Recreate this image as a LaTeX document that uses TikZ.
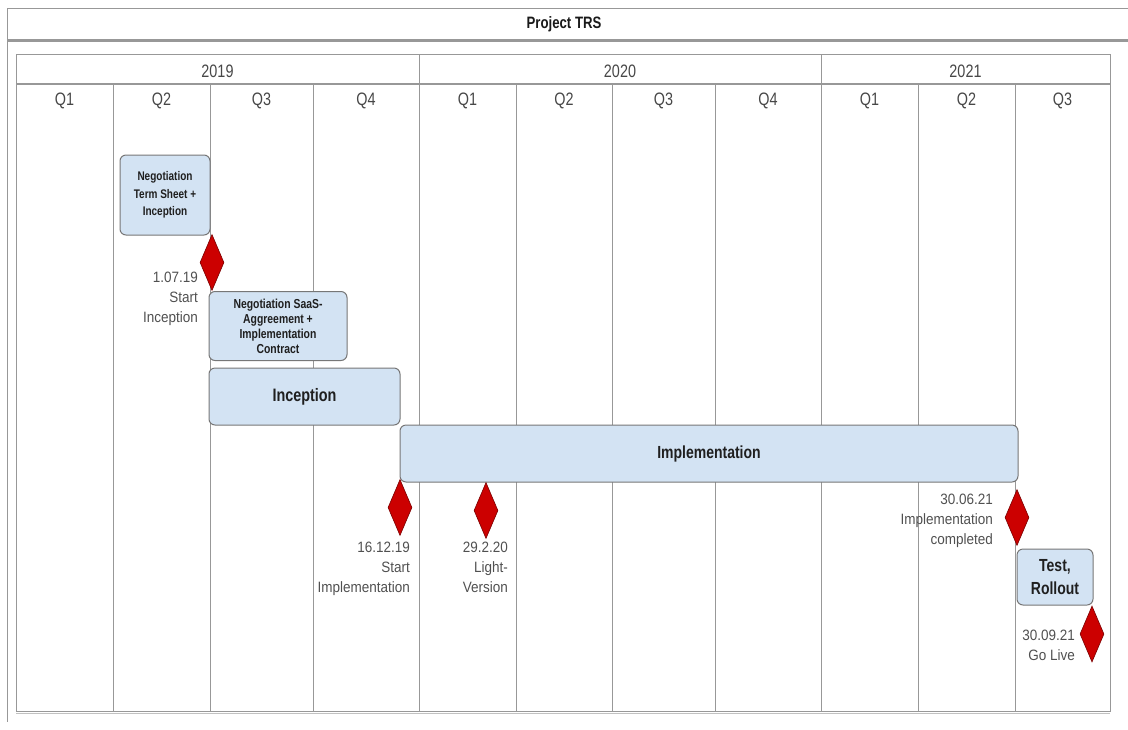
\documentclass[tikz,border=0pt]{standalone}
\usepackage{fontspec}
\setmainfont{Liberation Sans}[FakeStretch=0.8]
\newfontfamily\lblfont{Liberation Sans}[FakeStretch=0.9]
\usetikzlibrary{shapes.geometric}
\definecolor{gridc}{HTML}{989898}
\definecolor{boxfill}{HTML}{D3E3F3}
\definecolor{boxdraw}{HTML}{777777}
\definecolor{msfill}{HTML}{CC0000}
\definecolor{msdraw}{HTML}{7A0000}
\definecolor{lbl}{HTML}{505050}
\tikzset{
  task/.style={draw=boxdraw, line width=1pt, fill=boxfill, rounded corners=6pt, inner sep=1pt, align=center, text=black!88},
  mstone/.style={diamond, draw=msdraw, fill=msfill, line width=0.6pt, minimum width=24pt, minimum height=56pt, inner sep=0pt},
  mlabel/.style={align=right, text=lbl, font=\lblfont\fontsize{15}{20}\selectfont, inner sep=0pt, anchor=north east},
  hdr/.style={text=black!72, font=\fontsize{18}{20}\selectfont, inner sep=0pt},
  gline/.style={draw=gridc, line width=1pt}
}
\begin{document}
\begin{tikzpicture}[x=1pt,y=-1pt]
\useasboundingbox (0,0) rectangle (1128,729);
% outer frame
\draw[gline] (7,8) -- (1128,8);
\draw[gline] (7,8) -- (7,722);
\draw[draw=gridc, line width=2.5pt] (7,40.5) -- (1128,40.5);
\node[font=\bfseries\fontsize{16.5}{18}\selectfont, inner sep=0pt, text=black!90] (title) at (564,24) {Project TRS};
% table
\draw[gline] (16,54) rectangle (1110,711);
\draw[draw=gridc!60, line width=1pt] (16,713) -- (1110,713);
\draw[draw=gridc, line width=1.6pt] (16,84) -- (1110,84);
\foreach \x in {419,821} \draw[gline] (\x,54) -- (\x,711);
\foreach \x in {113,210,313,516,612,715,918,1015} \draw[gline] (\x,84) -- (\x,711);
% year headers
\node[hdr] (y2019) at (217.5,71) {2019};
\node[hdr] (y2020) at (620,71) {2020};
\node[hdr] (y2021) at (965.5,71) {2021};
% quarter headers
\node[hdr] (q1) at (64.5,101) {Q1};
\node[hdr] (q2) at (161.5,101) {Q2};
\node[hdr] (q3) at (261.5,101) {Q3};
\node[hdr] (q4) at (366,101) {Q4};
\node[hdr] (q5) at (467.5,101) {Q1};
\node[hdr] (q6) at (564,101) {Q2};
\node[hdr] (q7) at (663.5,101) {Q3};
\node[hdr] (q8) at (768,101) {Q4};
\node[hdr] (q9) at (869.5,101) {Q1};
\node[hdr] (q10) at (966.5,101) {Q2};
\node[hdr] (q11) at (1062.5,101) {Q3};
% tasks
\node[task, minimum width=90pt, minimum height=80pt, font=\bfseries\fontsize{12.5}{17.5}\selectfont] (t1) at (165,195) {Negotiation\\Term Sheet +\\Inception};
\node[task, minimum width=138pt, minimum height=69pt, font=\bfseries\fontsize{13}{15}\selectfont, anchor=north] (t2) at (278,291) {Negotiation SaaS-\\Aggreement +\\Implementation\\Contract};
\node[task, minimum width=191pt, minimum height=57pt, font=\bfseries\fontsize{18}{20}\selectfont] (t3) at (304.5,396.5) {Inception};
\node[task, minimum width=618pt, minimum height=57pt, font=\bfseries\fontsize{17.5}{20}\selectfont] (t4) at (709,453.5) {Implementation};
\node[task, minimum width=76pt, minimum height=56pt, font=\bfseries\fontsize{17.5}{23}\selectfont] (t5) at (1055,577) {Test,\\Rollout};
% milestones
\node[mstone] (m1) at (212,262.5) {};
\node[mstone] (m2) at (400,507.5) {};
\node[mstone] (m3) at (486,510.5) {};
\node[mstone] (m4) at (1017,517.5) {};
\node[mstone] (m5) at (1092,634) {};
% milestone labels
\node[mlabel] (l1) at (198,272) {1.07.19\\Start\\Inception};
\node[mlabel] (l2) at (410,542) {16.12.19\\Start\\Implementation};
\node[mlabel] (l3) at (508,542) {29.2.20\\Light-\\Version};
\node[mlabel] (l4) at (993,494) {30.06.21\\Implementation\\completed};
\node[mlabel] (l5) at (1075,630) {30.09.21\\Go Live};
\end{tikzpicture}
\end{document}
